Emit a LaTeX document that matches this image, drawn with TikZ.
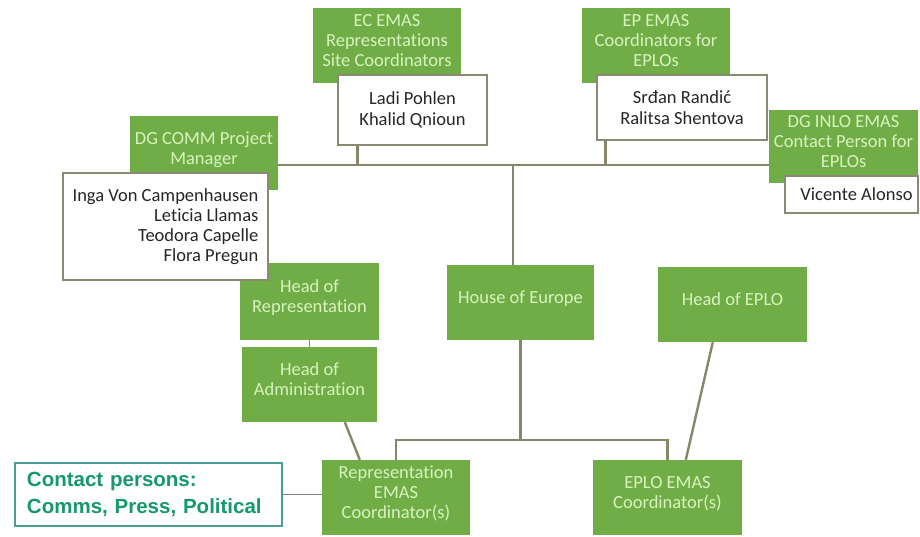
\documentclass[tikz,border=0pt]{standalone}
\usepackage{fontspec}
\setmainfont{Carlito}[Ligatures={NoCommon}]
\newfontfamily\arialfont{Liberation Sans}
\usetikzlibrary{calc}
\definecolor{gfill}{HTML}{70AD47}
\definecolor{gtext}{HTML}{D8F3BE}
\definecolor{lcol}{HTML}{878768}
\definecolor{wline}{HTML}{8A8A72}
\definecolor{ctext}{HTML}{16996A}
\definecolor{cline}{HTML}{4A9E98}
\tikzset{
  gbox/.style={fill=gfill, text=gtext, font=\fontsize{18.5}{20}\selectfont, align=center,
    inner sep=0pt, text depth=10pt, minimum width=148pt, minimum height=75pt},
  wbox/.style={fill=white, draw=wline, line width=1.4pt, text=black!85,
    font=\fontsize{18.5}{21.5}\selectfont, align=center, inner sep=0pt},
  conn/.style={draw=lcol, line width=2.4pt},
}
\begin{document}
\begin{tikzpicture}[x=1pt,y=-1pt]
\useasboundingbox (0,0) rectangle (920,536);
% green boxes
\node[gbox] (ecemas) at (387,45.5) {EC EMAS\\Representations\\Site Coordinators};
\node[gbox] (epemas) at (656,45.5) {EP EMAS\\Coordinators for\\EPLOs};
\node[gbox, minimum width=149pt, minimum height=73pt] (dginlo) at (843.5,146.5) {DG INLO EMAS\\Contact Person for\\EPLOs};
\node[gbox, minimum height=74pt] (dgcomm) at (204,153) {DG COMM Project\\Manager};
\node[gbox, minimum width=139pt, minimum height=77pt] (headrep) at (309.5,301.5) {Head of\\Representation};
\node[gbox, minimum width=135pt] (headadmin) at (309.5,384.5) {Head of\\Administration};
\node[gbox, minimum width=147pt] (hoe) at (520.5,302.5) {House of Europe};
\node[gbox, minimum width=149pt] (headeplo) at (732.5,304.5) {Head of EPLO};
\node[gbox] (repemas) at (396,497.5) {Representation\\EMAS\\Coordinator(s)};
\node[gbox, minimum width=149pt] (eploemas) at (667.5,497.5) {EPLO EMAS\\Coordinator(s)};
% white boxes
\node[wbox, minimum width=149pt, minimum height=70pt] (ladi) at (412.5,110) {Ladi Pohlen\\Khalid Qnioun};
\node[wbox, minimum width=170pt, minimum height=65pt] (srdan) at (682,107.5) {Srđan Randić\\Ralitsa Shentova};
\node[wbox, minimum width=133pt, minimum height=37pt] (vicente) at (851.5,194.5) {\hspace*{10pt}Vicente Alonso};
\node[wbox, font=\fontsize{18.5}{20}\selectfont, align=right, minimum width=205pt, minimum height=107pt] (inga) at (165.5,226.5)
  {Inga Von Campenhausen\\Leticia Llamas\\Teodora Capelle\\Flora Pregun};
% contact box
\node[draw=cline, line width=1.1pt, fill=white, text=ctext, font=\arialfont\bfseries\fontsize{20.5}{27}\selectfont,
  align=left, inner xsep=12pt, inner ysep=0pt, text width=243pt, minimum height=63pt] (contact) at (148.5,494.5)
  {Contact persons:\\Comms, Press, Political};
% connectors
\coordinate (hub) at (513,165);
\coordinate (bus) at (520,440);
\draw[conn] (dgcomm.east |- hub) -- (dginlo.west |- hub);
\draw[conn] ([xshift=20pt]ladi.south west) -- ([xshift=20pt]ladi.south west |- hub);
\draw[conn] ([xshift=9pt]srdan.south west) -- ([xshift=9pt]srdan.south west |- hub);
\draw[conn] (hub) -- (hub |- hoe.north);
\draw[conn] (hoe.south) -- (hoe.south |- bus);
\draw[conn] (repemas.north) -- (repemas.north |- bus) -| (eploemas.north);
\draw[conn] ([xshift=103pt]headadmin.south west) -- ([xshift=38pt]repemas.north west);
\draw[conn] ([xshift=55pt]headeplo.south west) -- ([xshift=93pt]eploemas.north west);
\draw[draw=lcol, line width=1pt] ([xshift=70pt]headrep.south west) -- ([xshift=68pt]headadmin.north west);
\draw[draw=gray, line width=0.8pt] (contact.east) -- (repemas.west |- contact.east);
\end{tikzpicture}
\end{document}
